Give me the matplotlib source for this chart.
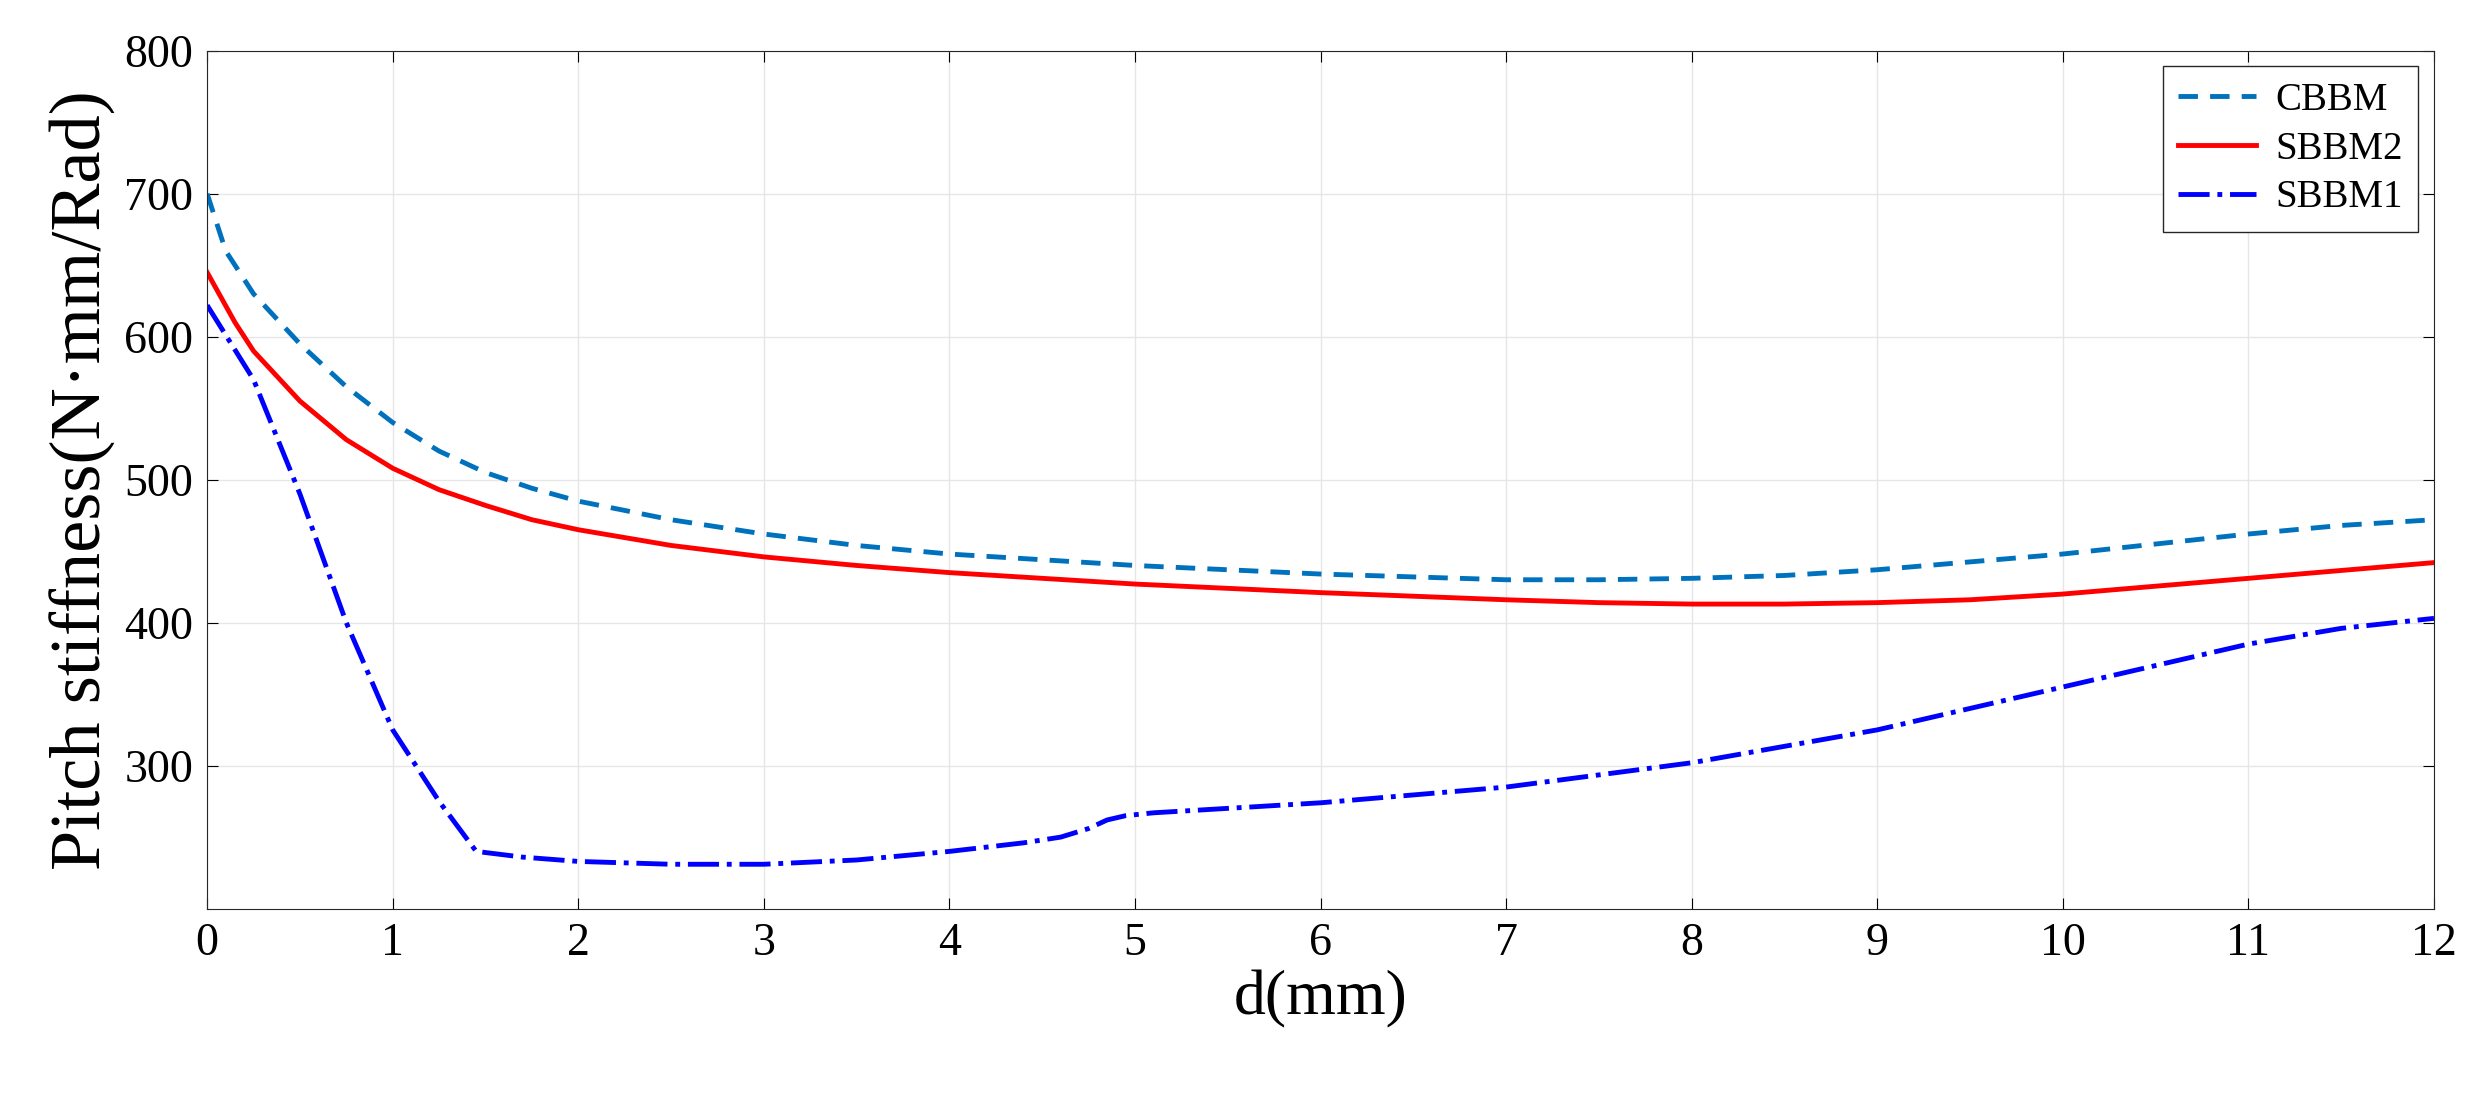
import matplotlib
matplotlib.use("Agg")
import matplotlib.pyplot as plt
import numpy as np

cbbm_x = [0, 0.1, 0.25, 0.5, 0.75, 1, 1.25, 1.5, 1.75, 2, 2.5, 3, 3.5, 4, 5, 6, 7, 7.5, 8, 8.5, 9, 10, 11, 11.5, 12]
cbbm_y = [700, 660, 630, 595, 565, 540, 520, 505, 494, 485, 472, 462, 454, 448, 440, 434, 430, 430, 431, 433, 437, 448, 462, 468, 472]
sb2_x = [0, 0.15, 0.25, 0.5, 0.75, 1, 1.25, 1.5, 1.75, 2, 2.5, 3, 3.5, 4, 5, 6, 7, 7.5, 8, 8.5, 9, 9.5, 10, 11, 12]
sb2_y = [645, 610, 590, 555, 528, 508, 493, 482, 472, 465, 454, 446, 440, 435, 427, 421, 416, 414, 413, 413, 414, 416, 420, 431, 442]
sb1_x = [0, 0.25, 0.5, 0.75, 1, 1.25, 1.45, 1.7, 2, 2.5, 3, 3.5, 4, 4.4, 4.6, 4.75, 4.85, 4.95, 5.1, 6, 7, 8, 9, 10, 11, 11.5, 12]
sb1_y = [622, 570, 490, 400, 325, 275, 240, 236, 233, 231, 231, 234, 240, 246, 250, 256, 262, 265, 267, 274, 285, 302, 325, 355, 385, 396, 403]

plt.rcParams['font.family'] = ['Liberation Serif', 'DejaVu Serif']
fig = plt.figure(figsize=(24.66, 11.04), dpi=100)
ax = fig.add_axes([0.084, 0.177, 0.903, 0.777])
ax.plot(cbbm_x, cbbm_y, '--', color='#0072BD', lw=3.5, dashes=(4, 2.5), label='CBBM')
ax.plot(sb2_x, sb2_y, '-', color='#FF0000', lw=3.5, label='SBBM2')
ax.plot(sb1_x, sb1_y, '-.', color='#0000FF', lw=3.5, label='SBBM1')
ax.set_xlim(0, 12)
ax.set_ylim(200, 800)
ax.set_xticks(range(0, 13))
ax.set_yticks([300, 400, 500, 600, 700, 800])
ax.grid(True, color='#e6e6e6', lw=1)
ax.tick_params(direction='in', top=True, right=True, labelsize=33, length=8, pad=10)
for s in ax.spines.values():
    s.set_color('#262626')
ax.set_xlabel('d(mm)', fontsize=46, labelpad=4)
ax.set_ylabel('Pitch stiffness(N·mm/Rad)', fontsize=52, labelpad=6)
leg = ax.legend(loc='upper right', fontsize=28, fancybox=False, framealpha=1, edgecolor='#262626',
                handlelength=2.0, borderaxespad=0.4, labelspacing=0.3, handletextpad=0.5)
fig.savefig('out.png', dpi=100)
